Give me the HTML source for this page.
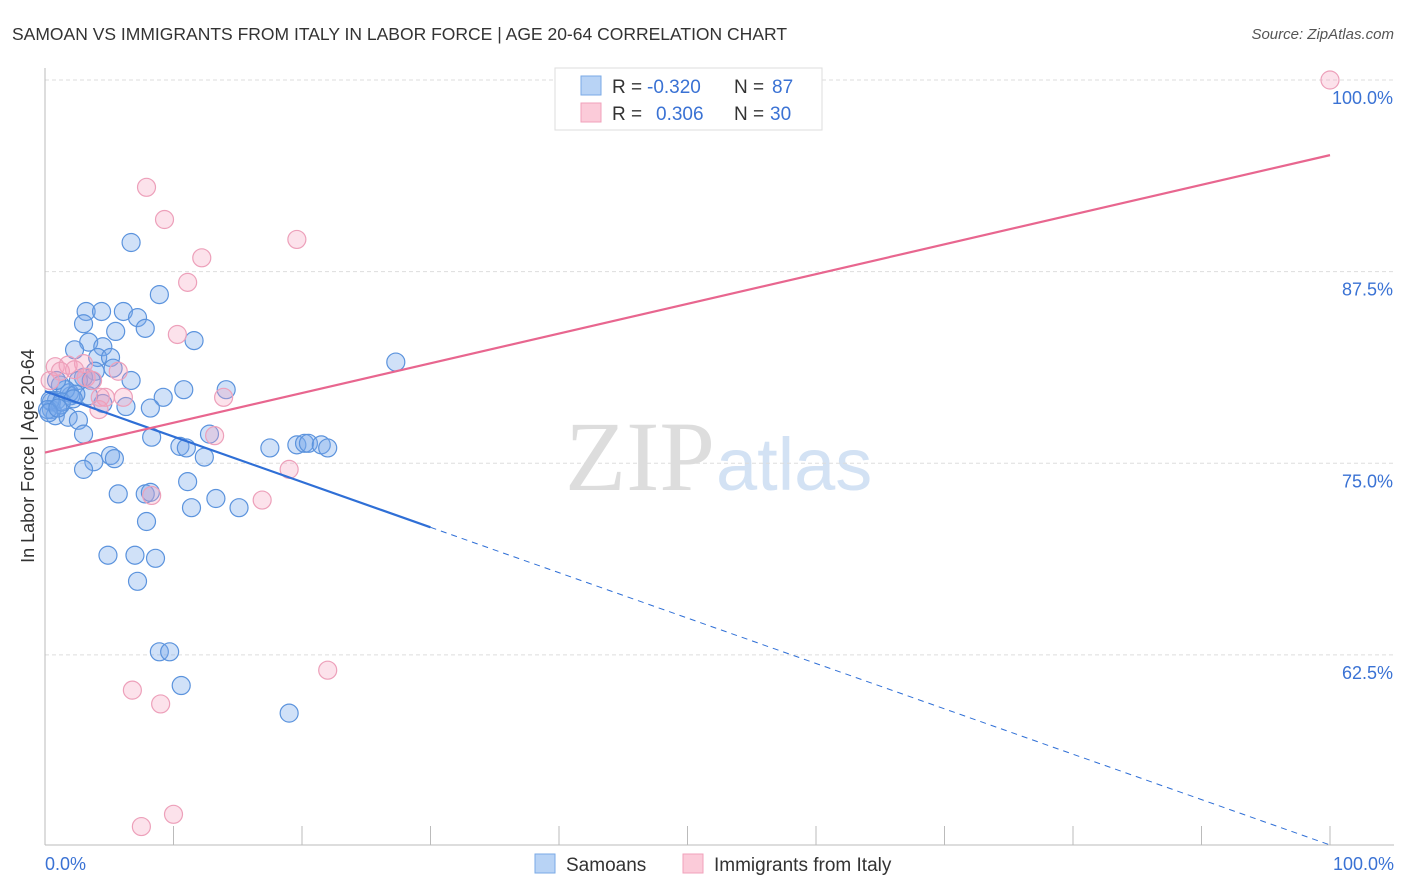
<!DOCTYPE html>
<html><head><meta charset="utf-8"><style>
body{margin:0;background:#fff;font-family:"Liberation Sans",sans-serif;}
#wrap{position:relative;width:1406px;height:892px;overflow:hidden}
</style></head><body>
<div id="wrap">
<svg id="svg" width="1406" height="892" xmlns="http://www.w3.org/2000/svg">
<text x="12" y="40" font-size="17.5" fill="#333">SAMOAN VS IMMIGRANTS FROM ITALY IN LABOR FORCE | AGE 20-64 CORRELATION CHART</text>
<text x="1394" y="39" font-size="15" fill="#555" font-style="italic" text-anchor="end">Source: ZipAtlas.com</text>
<text x="715" y="490" font-size="100" fill="#ddd" text-anchor="end" font-family="Liberation Serif,serif">ZIP</text>
<text x="716" y="490" font-size="74" fill="#d3e2f4">atlas</text>
<text transform="translate(34,456) rotate(-90)" font-size="18" fill="#333" text-anchor="middle">In Labor Force | Age 20-64</text>
<g id="grid"></g><g id="marks"></g>
<g>
<rect x="555" y="68" width="267" height="62" fill="#fff" stroke="#ddd"/>
<rect x="581" y="76" width="20" height="19" fill="#b8d3f5" stroke="#7aa9e6"/>
<rect x="581" y="103" width="20" height="19" fill="#fbcbd9" stroke="#f0a2bb"/>
<text y="93" font-size="19" fill="#333"><tspan x="612">R =</tspan><tspan x="647" fill="#3a72d4">-0.320</tspan><tspan x="734">N =</tspan><tspan x="772" fill="#3a72d4">87</tspan></text>
<text y="120" font-size="19" fill="#333"><tspan x="612">R =</tspan><tspan x="656" fill="#3a72d4">0.306</tspan><tspan x="734">N =</tspan><tspan x="770" fill="#3a72d4">30</tspan></text>
</g>
<g>
<rect x="535" y="854" width="20" height="19" fill="#b8d3f5" stroke="#7aa9e6"/>
<text x="566" y="871" font-size="19" fill="#333">Samoans</text>
<rect x="683" y="854" width="20" height="19" fill="#fbcbd9" stroke="#f0a2bb"/>
<text x="714" y="871" font-size="19" fill="#333">Immigrants from Italy</text>
</g>
</svg>
</div>
<script>
const yTicks=[100,87.5,75,62.5];
const yTickLabels=["100.0%","87.5%","75.0%","62.5%"];
const xTickLabels=["0.0%","100.0%"];
const samoans=[[6.7,89.4],[8.9,86.0],[3.2,84.9],[4.4,84.9],[6.1,84.9],[7.2,84.5],[3.0,84.1],[5.5,83.6],[7.8,83.8],[11.6,83.0],[3.4,82.9],[2.3,82.4],[4.5,82.6],[4.1,81.9],[5.1,81.9],[3.9,81.0],[5.3,81.2],[3.0,80.6],[6.7,80.4],[10.8,79.8],[14.1,79.8],[9.2,79.3],[8.2,78.6],[6.3,78.7],[4.5,78.9],[3.4,79.4],[2.0,79.4],[1.2,80.1],[0.9,79.1],[0.5,78.5],[0.8,78.1],[1.8,78.0],[2.6,77.8],[3.0,76.9],[8.3,76.7],[12.8,76.9],[10.5,76.1],[11.0,76.0],[12.4,75.4],[5.1,75.5],[5.4,75.3],[3.8,75.1],[3.0,74.6],[11.1,73.8],[5.7,73.0],[7.8,73.0],[8.2,73.1],[13.3,72.7],[11.4,72.1],[15.1,72.1],[7.9,71.2],[4.9,69.0],[7.0,69.0],[8.6,68.8],[7.2,67.3],[8.9,62.7],[9.7,62.7],[10.6,60.5],[19.0,58.7],[17.5,76.0],[19.6,76.2],[20.2,76.3],[20.5,76.3],[21.5,76.2],[22.0,76.0],[27.3,81.6],[0.5,79.0],[1.2,78.8],[1.9,79.6],[2.6,80.4],[0.4,79.1],[1.6,79.8],[3.6,80.4],[0.9,80.4],[0.2,78.5],[1.3,79.0],[2.4,79.5],[0.3,78.3],[1.0,78.6],[2.2,79.2]];
const italy=[[100,100],[7.9,93.0],[9.3,90.9],[19.6,89.6],[12.2,88.4],[11.1,86.8],[10.3,83.4],[0.8,81.3],[1.8,81.4],[1.2,81.0],[3.0,81.5],[3.2,80.6],[3.7,80.4],[5.7,81.0],[4.3,79.3],[4.7,79.3],[6.1,79.3],[4.2,78.5],[13.9,79.3],[13.2,76.8],[8.3,72.9],[16.9,72.6],[19.0,74.6],[22.0,61.5],[6.8,60.2],[9.0,59.3],[7.5,51.3],[10.0,52.1],[0.4,80.4],[2.3,81.1]];
const samoanTrend=[79.7,50.1];
const italyTrend=[75.7,95.1];
const samoanSolidEnd=30;
const NS="http://www.w3.org/2000/svg";
const X=v=>45+v*12.85, Y=v=>80+(100-v)*15.33;
function mk(t,a,p){const e=document.createElementNS(NS,t);for(const k in a)e.setAttribute(k,a[k]);p.appendChild(e);return e;}
const grid=document.getElementById('grid'),marks=document.getElementById('marks');
yTicks.forEach((v,i)=>{
 const l=mk('line',{x1:45,x2:1394,y1:Y(v),y2:Y(v),stroke:'#ddd','stroke-dasharray':'4,3'},grid);
 
 
 const t=mk('text',{x:1393,y:Y(v)+24,'font-size':18,fill:'#3a72d4','text-anchor':'end'},grid);
 t.textContent=yTickLabels[i];
 
 
});
const ax=mk('line',{x1:45,x2:45,y1:68,y2:845,stroke:'#bbb'},grid);


const bx=mk('line',{x1:45,x2:1394,y1:845,y2:845,stroke:'#bbb'},grid);


for(let i=1;i<=10;i++){const tk=mk('line',{x1:X(i*10),x2:X(i*10),y1:826,y2:845,stroke:'#bbb'},grid);
 
 }
[[0,'start',45],[100,'end',1394]].forEach((d,i)=>{const t=mk('text',{x:d[2],y:870,'font-size':18,fill:'#3a72d4','text-anchor':d[1]},grid);t.textContent=xTickLabels[i];
 
 });
samoans.forEach(p=>{const c=mk('circle',{cx:X(p[0]),cy:Y(p[1]),r:9,fill:'rgba(120,170,235,0.35)',stroke:'#5b93dd','stroke-width':1.2},marks);
 
 });
italy.forEach(p=>{const c=mk('circle',{cx:X(p[0]),cy:Y(p[1]),r:9,fill:'rgba(245,160,190,0.3)',stroke:'#eda0ba','stroke-width':1.2},marks);
 
 });
const st=x=>samoanTrend[0]+(samoanTrend[1]-samoanTrend[0])*x/100;
let l1=mk('line',{x1:X(0),y1:Y(st(0)),x2:X(samoanSolidEnd),y2:Y(st(samoanSolidEnd)),stroke:'#2f6fd6','stroke-width':2.2},marks);


let l2=mk('line',{x1:X(samoanSolidEnd),y1:Y(st(samoanSolidEnd)),x2:X(100),y2:Y(st(100)),stroke:'#2f6fd6','stroke-width':1,'stroke-dasharray':'6,5'},marks);


let l3=mk('line',{x1:X(0),y1:Y(italyTrend[0]),x2:X(100),y2:Y(italyTrend[1]),stroke:'#e8668f','stroke-width':2.2},marks);


</script>
</body></html>
